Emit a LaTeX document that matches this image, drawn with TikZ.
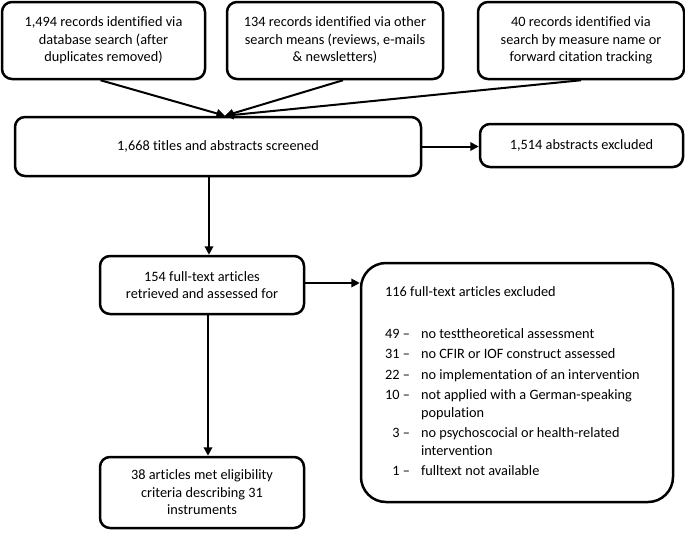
\documentclass[tikz,border=0pt]{standalone}
\usepackage{fontspec}
\setmainfont[Ligatures=NoCommon]{Carlito}
\usetikzlibrary{arrows.meta,calc}
\begin{document}
\begin{tikzpicture}[x=1pt,y=-1pt,
  txt/.style={font=\fontsize{14.3}{17.5}\selectfont},
  box/.style={draw, line width=2.5pt, rounded corners=10pt, align=center, inner sep=0pt, txt},
  arr/.style={line width=2pt, -{Triangle[length=8.5pt,width=8.5pt]}}]
\useasboundingbox (0,0) rectangle (685,533);
\node[box, minimum width=203pt, minimum height=77pt] (A) at (103.5,40.5) {1,494 records identified via\\database search (after\\duplicates removed)};
\node[box, minimum width=216pt, minimum height=77pt] (B) at (335,40.5) {134 records identified via other\\search means (reviews, e-mails\\\& newsletters)};
\node[box, minimum width=206pt, minimum height=77pt] (C) at (581,40.5) {40 records identified via\\search by measure name or\\forward citation tracking};
\node[box, minimum width=406pt, minimum height=59pt] (D) at (218,146.5) {1,668 titles and abstracts screened};
\node[box, minimum width=203pt, minimum height=43pt] (E) at (581.5,145.5) {1,514 abstracts excluded};
\node[box, minimum width=204pt, minimum height=58pt] (F) at (202,285) {154 full-text articles\\retrieved and assessed for};
\node[box, rounded corners=25pt, minimum width=312pt, minimum height=239pt] (G) at (517,382.5) {};
\node[box, minimum width=204pt, minimum height=71pt] (H) at (202,492.5) {38 articles met eligibility\\criteria describing 31\\instruments};
\node[txt, anchor=base west, inner sep=0pt] (Gh) at (385,296.5) {116 full-text articles excluded};
\node[txt, anchor=base west, inner sep=0pt] (Gl) at (385,338) {\begin{tabular}[t]{@{}r@{\hspace{11pt}}l@{}}
49 --& no testtheoretical assessment\\[3pt]
31 --& no CFIR or IOF construct assessed\\[3pt]
22 --& no implementation of an intervention\\[3pt]
10 --& not applied with a German-speaking\\
& population\\[3pt]
3 --& no psychoscocial or health-related\\
& intervention\\[3pt]
1 --& fulltext not available
\end{tabular}};
\draw[arr] ([xshift=-3pt]A.south) -- ([xshift=7pt]D.north);
\draw[arr] ([xshift=8pt]B.south) -- ([xshift=7pt]D.north);
\draw[arr] (C.south) -- ([xshift=7pt]D.north);
\draw[arr] (D.east) -- (D.east -| E.west);
\draw[arr] ([xshift=7pt]F.north |- D.south) -- ([xshift=7pt]F.north);
\draw[arr] ([xshift=6pt]F.south) -- ([xshift=6pt]H.north);
\draw[arr] ([yshift=2pt]F.east) -- ([yshift=2pt]F.east -| G.west);
\end{tikzpicture}
\end{document}
